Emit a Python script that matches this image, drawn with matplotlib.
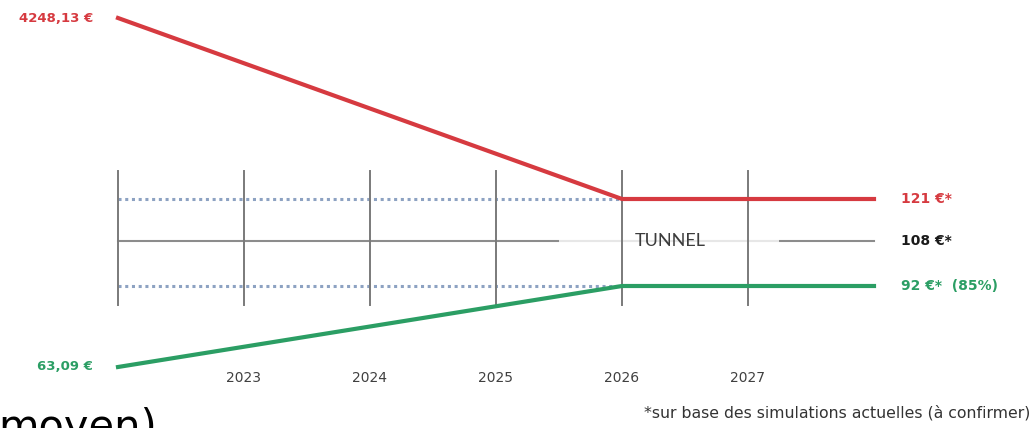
#!/usr/bin/env python3

import numpy as np
import matplotlib
matplotlib.use('Agg')
import matplotlib.pyplot as plt

# data
years_red = [2022, 2026, 2028]
cost_red = [4248.13, 121, 121]
years_green = [2022, 2026, 2028]
cost_green = [63.09, 92, 92]
tunnel_years = [2022, 2028]
tunnel_level = 108
grid_years = [2022, 2023, 2024, 2025, 2026, 2027]
year_labels = ["2023", "2024", "2025", "2026", "2027"]
label_top = "4248,13 €"
label_bottom = "63,09 €"
label_red = "121 €*"
label_mid = "108 €*"
label_green = "92 €*  (85%)"
footnote = "*sur base des simulations actuelles (à confirmer)"

# schematic (not to scale) y axis: piecewise linear between the levels
val_knots = [0, 63.09, 92, 108, 121, 4248.13, 6000]
pos_knots = [0, 61, 142, 187, 229, 410, 428]

def fwd(v):
	return np.interp(v, val_knots, pos_knots)

def inv(p):
	return np.interp(p, pos_knots, val_knots)

red, green = '#d63a40', '#2b9e64'
narrow = ['Liberation Sans Narrow', 'DejaVu Sans']

fig = plt.figure(figsize=(10.34, 4.28), dpi=100)
ax = fig.add_axes([0, 0, 1, 1])
ax.set_yscale('function', functions=(fwd, inv))
ax.set_xlim(2022 - 118 / 126, 2022 + 916 / 126)
ax.set_ylim(0, 6000)
ax.axis('off')

for yr in grid_years:
	ax.axvline(yr, ymin=123 / 428, ymax=257 / 428, color='#7a7a7a', lw=1.4, zorder=3)

ax.plot(tunnel_years, [tunnel_level] * 2, color='#8c8c8c', lw=1.5, zorder=1)
ax.axvspan(2025.5, 2027.25, ymin=0.418, ymax=0.458, color='white', alpha=0.8, lw=0, zorder=2)

# dotted guides up to the tunnel entry
ax.plot([years_red[0], years_red[1]], [cost_red[1]] * 2, color='#8da2c2', lw=2.2,
	ls=(0, (1, 1.2)), zorder=2)
ax.plot([years_green[0], years_green[1]], [cost_green[1]] * 2, color='#8da2c2', lw=2.2,
	ls=(0, (1, 1.2)), zorder=2)

ax.plot(years_red, cost_red, color=red, lw=3, zorder=4)
ax.plot(years_green, cost_green, color=green, lw=3, zorder=4)

ax.annotate("TUNNEL", (years_red[1], tunnel_level), xytext=(48, 0), textcoords='offset pixels',
	ha='center', va='center', fontsize=13, color='#3c3c3c', family='Lato', zorder=5)

ax.annotate(label_top, (years_red[0], cost_red[0]), xytext=(-25, 0), textcoords='offset pixels',
	ha='right', va='center', fontsize=9.5, color=red, weight='bold', family=narrow)
ax.annotate(label_bottom, (years_green[0], cost_green[0]), xytext=(-25, 0), textcoords='offset pixels',
	ha='right', va='center', fontsize=9.5, color=green, weight='bold', family=narrow)
ax.annotate(label_red, (years_red[-1], cost_red[-1]), xytext=(27, 0), textcoords='offset pixels',
	ha='left', va='center', fontsize=10, color=red, weight='bold', family=narrow)
ax.annotate(label_mid, (tunnel_years[-1], tunnel_level), xytext=(27, 0), textcoords='offset pixels',
	ha='left', va='center', fontsize=10, color='#1a1a1a', weight='bold', family=narrow)
ax.annotate(label_green, (years_green[-1], cost_green[-1]), xytext=(27, 0), textcoords='offset pixels',
	ha='left', va='center', fontsize=10, color=green, weight='bold', family=narrow)

for yr, lab in zip(grid_years[1:], year_labels):
	ax.text(yr, 50 / 428, lab, transform=ax.get_xaxis_transform(), ha='center', va='center',
		fontsize=10, color='#404040', family=narrow)

fig.text(1030 / 1034, 15 / 428, footnote, ha='right', va='center', fontsize=11.3,
	color='#333333', family=narrow)
fig.text(-2 / 1034, -12 / 428, "moyen)", ha='left', va='baseline', fontsize=30,
	color='black', family='DejaVu Sans')

plt.savefig('out.png', dpi=100)
plt.close()
